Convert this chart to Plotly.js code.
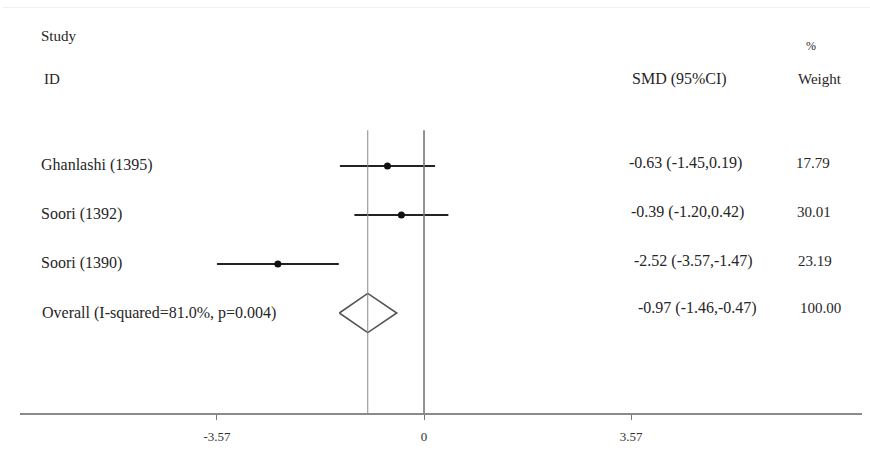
<!DOCTYPE html>
<html>
<head>
<meta charset="utf-8">
<script src="https://cdn.plot.ly/plotly-3.0.1.min.js"></script>
<style>html,body{margin:0;padding:0;background:#fff;}#chart{width:870px;height:463px;}</style>
</head>
<body>
<div id="chart"></div>
<script>
// ---- data ----
const studies   = ["Ghanlashi (1395)", "Soori (1392)", "Soori (1390)"];
const smd       = [-0.63, -0.39, -2.52];
const ciLow     = [-1.45, -1.20, -3.57];
const ciHigh    = [0.19, 0.42, -1.47];
const weights   = ["17.79", "30.01", "23.19"];
const overallLabel = "Overall (I-squared=81.0%, p=0.004)";
const overallSMD   = -0.97;
const overallLow   = -1.46;
const overallHigh  = -0.47;
const overallWeight = "100.00";
const tickVals  = [-3.57, 0, 3.57];
const tickText  = ["-3.57", "0", "3.57"];

// ---- layout helpers ----
const rows = studies.map((_, i) => i + 1);
const overallRow = studies.length + 1;
const fmt = v => v.toFixed(2);
const ciText = (e, l, h) => fmt(e) + " (" + fmt(l) + "," + fmt(h) + ")";
const FONT = "Liberation Serif, Times New Roman, serif";
const TXT = "#262626";
const xLabel = -6.64, xSMD = 3.5, xW = 6.38;

const traces = [];
// CI lines
const cx = [], cy = [];
studies.forEach((s, i) => { cx.push(ciLow[i], ciHigh[i], null); cy.push(rows[i], rows[i], null); });
traces.push({x: cx, y: cy, mode: "lines", line: {color: "#222", width: 2}, hoverinfo: "skip", showlegend: false});
// point estimates
traces.push({x: smd, y: rows, mode: "markers", marker: {color: "#111", size: 7}, showlegend: false});
// diamond
const dh = 0.4;
traces.push({
  x: [overallLow, overallSMD, overallHigh, overallSMD, overallLow],
  y: [overallRow, overallRow - dh, overallRow, overallRow + dh, overallRow],
  mode: "lines", line: {color: "#555", width: 1.6}, showlegend: false, hoverinfo: "skip"
});

const ann = [];
const addText = (x, y, t, anchor, size) => ann.push({
  x: x, y: y, xref: "x", yref: "y", text: t, showarrow: false,
  xanchor: anchor || "left", yanchor: "middle",
  font: {family: FONT, size: size || 16, color: TXT}
});
addText(xLabel, -1.65, "Study", "left", 15);
addText(xLabel + 0.06, -0.77, "ID", "left", 15);
addText(xSMD + 0.05, -0.77, "SMD (95%CI)", "left", 16);
addText(6.68, -1.45, "%", "center", 12);
addText(6.82, -0.77, "Weight", "center", 15);
studies.forEach((s, i) => {
  addText(xLabel, rows[i] - 0.03, s);
  addText(xSMD + 0.04 * i, rows[i] - 0.07, ciText(smd[i], ciLow[i], ciHigh[i]));
  addText(xW + 0.02 * i, rows[i] - 0.07, weights[i], "left", 15);
});
addText(xLabel + 0.02, overallRow, overallLabel);
addText(xSMD + 0.15, overallRow - 0.1, ciText(overallSMD, overallLow, overallHigh));
addText(xW + 0.06, overallRow - 0.1, overallWeight, "left", 15);

const yTop = 0.27, yBot = 6.04;
const layout = {
  width: 870, height: 463,
  margin: {l: 20, r: 8, t: 0, b: 50},
  paper_bgcolor: "#fff", plot_bgcolor: "#fff",
  showlegend: false,
  xaxis: {
    range: [-6.966, 7.552], showgrid: false, zeroline: false,
    showline: true, linecolor: "#8a8a8a", linewidth: 1.5,
    ticks: "outside", ticklen: 5, tickwidth: 1, tickcolor: "#777",
    tickvals: tickVals, ticktext: tickText, ticklabelstandoff: 6,
    tickfont: {family: FONT, size: 13, color: "#333"}, fixedrange: true
  },
  yaxis: {range: [yBot, -2.388], visible: false, fixedrange: true},
  shapes: [
    {type: "line", xref: "x", yref: "y", x0: 0, x1: 0, y0: yTop, y1: yBot, line: {color: "#777", width: 1.6}},
    {type: "line", xref: "x", yref: "y", x0: overallSMD, x1: overallSMD, y0: yTop, y1: yBot, line: {color: "#888", width: 1}},
    {type: "line", xref: "paper", yref: "paper", x0: -0.02, x1: 1.01, y0: 0.982, y1: 0.982, line: {color: "#efefef", width: 1}}
  ],
  annotations: ann
};
Plotly.newPlot("chart", traces, layout, {displayModeBar: false, staticPlot: true});
</script>
</body>
</html>
